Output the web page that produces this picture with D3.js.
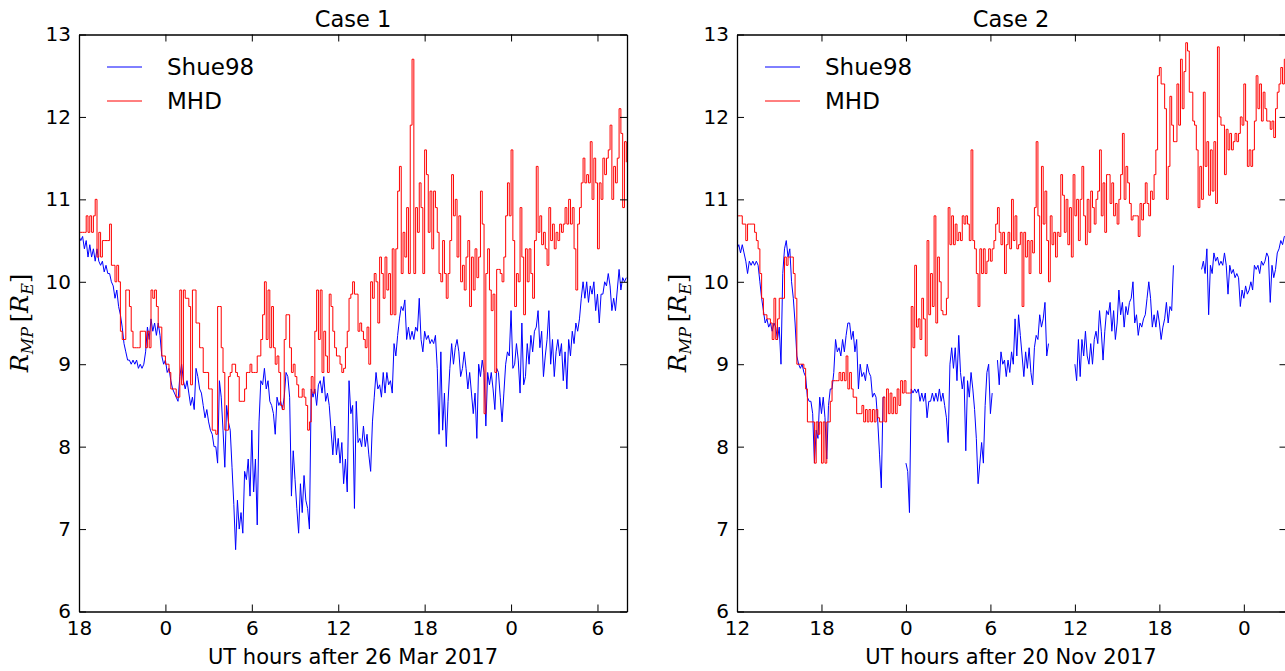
<!DOCTYPE html>
<html>
<head>
<meta charset="utf-8">
<script src="https://cdn.jsdelivr.net/npm/d3@7"></script>
<style>
  body { margin: 0; background: #fff; }
  svg { display: block; background: #fff; }
</style>
</head>
<body>
<svg id="fig" width="1285" height="671"></svg>
<script>
// Magnetopause stand-off distance R_MP (Earth radii), sampled every 7.5 minutes.
const stepHours = 0.125;
const case1Start = 18;   // hours after 26 Mar 2017
const case2Start = 12;   // hours after 20 Nov 2017

const case1Shue98 = [
  10.55,10.5,10.55,10.4,10.5,10.3,10.45,10.3,10.4,10.25,
  10.4,10.25,10.2,10.25,10.12,10.2,10.1,10.1,10.0,9.95,
  9.8,9.9,9.7,9.6,9.45,9.25,9.15,9.05,9.05,9.0,
  9.05,9.0,9.05,8.95,9.0,8.95,9.0,9.15,9.45,9.3,
  9.55,9.4,9.5,9.35,9.5,9.35,9.1,9.0,9.05,8.9,
  8.95,8.8,8.7,8.65,8.6,8.55,8.85,9.0,8.8,8.7,
  8.8,8.65,8.5,8.6,8.45,8.95,8.85,8.7,8.65,8.5,
  8.35,8.45,8.3,8.2,8.15,8.0,8.0,7.8,8.8,8.6,
  8.2,7.75,8.5,8.3,8.2,7.75,7.3,6.75,7.35,7.0,
  7.2,6.95,7.7,7.6,7.85,7.4,8.2,7.45,7.85,7.05,
  8.3,8.8,8.75,8.95,8.7,8.8,8.55,8.5,8.4,8.15,
  8.6,8.5,8.55,8.45,8.6,8.9,8.85,8.6,7.4,7.95,
  7.6,7.25,6.95,7.55,7.2,7.65,7.35,7.25,7.0,8.7,
  8.6,8.7,8.5,8.75,8.8,8.65,8.85,8.55,8.65,8.5,
  8.2,7.9,8.25,7.9,8.1,7.8,8.05,7.55,7.85,7.45,
  8.8,8.4,8.5,7.25,8.55,8.05,8.1,8.0,8.25,8.0,
  8.15,7.9,7.7,8.3,8.6,8.9,8.7,8.75,8.6,8.9,
  8.65,8.9,8.75,8.8,8.65,9.25,9.1,9.35,9.55,9.7,
  9.65,9.78,9.3,9.45,9.3,9.4,9.3,9.45,9.4,9.8,
  9.3,9.15,9.4,9.3,9.35,9.25,9.3,9.25,9.35,8.95,
  8.15,9.15,8.2,8.65,8.0,8.55,8.95,9.25,9.0,9.2,
  9.3,9.15,8.85,8.95,9.15,8.95,8.7,8.9,8.65,8.4,
  8.65,8.1,9.0,8.85,9.05,8.9,8.25,8.9,8.75,8.9,
  8.7,8.45,8.95,8.9,8.6,8.3,8.65,9.0,9.15,9.1,
  9.65,8.95,9.0,9.25,9.05,8.65,9.5,8.75,8.85,9.25,
  9.0,9.35,9.15,9.4,9.45,9.65,9.2,9.4,8.85,9.1,
  9.3,9.65,9.0,9.3,8.85,9.15,9.3,9.1,9.25,8.8,
  9.15,8.7,9.3,9.1,9.4,9.25,9.5,9.4,9.55,9.8,
  10.0,9.8,10.0,9.75,9.95,9.85,10.0,9.65,9.85,9.5,
  9.85,9.85,10.0,9.95,10.1,9.95,9.65,9.8,9.65,9.9,
  10.15,9.9,10.05,10.0,10.05
];
const case1MHD = [
  10.6,10.6,10.6,10.6,10.8,10.6,10.8,10.6,10.8,11.0,
  10.3,10.6,10.3,10.5,10.5,10.5,10.5,10.7,10.2,10.2,
  10.0,10.2,10.0,9.4,9.3,9.3,9.9,9.9,9.7,9.4,
  9.2,9.2,9.2,9.2,9.4,9.4,9.4,9.2,9.4,9.2,
  9.9,9.8,9.9,9.7,9.45,9.45,9.1,9.1,9.0,9.0,
  8.9,8.7,8.7,8.7,8.6,8.6,9.9,8.75,9.9,9.8,
  9.8,9.7,8.75,9.9,9.9,9.5,9.5,9.2,9.2,8.9,
  8.9,8.9,8.7,8.7,8.2,8.2,8.15,9.7,9.7,9.2,
  8.9,8.2,8.2,8.85,8.9,9.0,9.0,8.9,8.85,8.55,
  8.55,8.55,8.7,8.9,8.9,9.0,8.9,8.9,8.9,9.1,
  9.1,9.3,9.6,10.0,9.3,9.9,9.2,9.7,9.2,9.0,
  9.1,8.9,8.5,8.45,9.3,9.6,9.6,9.2,8.9,9.0,
  8.85,8.75,8.6,8.6,8.7,8.6,8.5,8.2,8.3,8.85,
  8.65,9.4,9.9,9.3,9.9,8.9,9.4,9.1,8.9,9.85,
  9.7,9.4,9.2,9.1,9.1,9.0,8.9,8.95,9.2,9.4,
  9.8,9.85,10.0,9.85,9.85,9.4,9.5,9.4,9.3,9.2,
  9.45,9.0,10.0,9.8,10.1,10.0,9.5,10.3,10.1,9.8,
  10.3,9.9,10.1,9.6,10.4,9.6,10.4,11.1,11.4,10.1,
  10.6,10.3,10.9,10.1,11.9,12.7,10.1,10.9,10.6,11.2,
  10.9,10.1,11.6,11.3,10.6,11.1,10.4,11.1,10.9,10.6,
  10.1,10.0,10.5,10.1,9.8,10.1,10.5,11.3,10.8,11.0,
  10.3,10.8,10.0,10.2,9.9,10.3,10.5,9.7,10.3,9.9,
  10.4,10.05,10.3,11.1,10.7,8.4,10.1,10.4,9.9,9.65,
  9.85,8.9,10.15,10.15,10.1,10.0,10.3,10.8,11.2,10.8,
  11.6,10.5,9.7,10.1,10.0,10.9,10.3,9.6,10.4,10.0,
  10.4,10.1,9.8,10.5,11.4,10.6,10.8,10.45,10.6,10.4,
  10.2,10.9,10.5,10.7,10.4,10.6,10.5,10.7,10.6,10.7,
  10.9,10.7,11.0,10.7,10.9,10.4,9.9,10.7,10.9,11.2,
  11.5,11.2,11.3,11.2,11.7,11.0,11.5,11.2,10.4,11.2,
  11.0,11.5,11.3,11.5,11.6,11.9,11.0,11.4,11.2,11.5,
  12.1,11.8,10.9,11.7,11.45
];

const case2Shue98 = [
  10.4,10.45,10.35,10.45,10.35,10.25,10.1,10.25,10.2,10.25,
  10.2,10.25,10.2,10.0,9.8,9.65,9.5,9.55,9.45,9.5,
  9.4,9.5,9.45,9.3,9.45,9.0,10.1,10.4,10.5,10.3,
  10.4,10.0,9.8,9.5,9.1,9.0,8.95,9.0,8.9,8.85,
  8.6,8.55,8.55,8.4,7.8,8.2,8.1,8.6,8.4,8.6,
  8.35,7.85,8.5,8.7,8.7,8.9,9.3,9.15,9.2,9.1,
  9.3,9.15,9.35,9.5,9.5,9.3,9.4,9.15,9.3,8.7,
  9.0,8.85,8.9,8.8,9.0,8.9,8.85,8.6,8.65,8.6,
  8.3,7.9,7.5,8.6,8.6,null,null,null,null,null,
  null,null,null,null,null,null,7.8,7.7,7.2,8.7,
  8.65,8.7,8.65,8.7,8.55,8.65,8.55,8.65,8.35,8.55,
  8.55,8.65,8.55,8.65,8.55,8.7,8.55,8.65,8.5,8.35,
  8.05,9.0,9.2,8.95,9.2,8.8,9.35,8.9,8.7,8.85,
  7.95,8.8,8.6,8.9,8.7,8.45,8.1,7.55,7.8,8.05,
  7.8,8.5,8.9,9.0,8.4,8.65,null,null,9.05,8.75,
  9.15,9.0,9.05,8.85,9.05,8.9,9.15,9.0,9.55,9.1,
  9.6,9.35,9.1,8.85,9.15,8.95,9.2,8.9,8.75,9.2,
  9.35,9.3,9.6,9.45,9.55,9.75,9.1,9.25,null,null,
  null,null,null,null,null,null,null,null,null,null,
  null,null,9.0,8.8,9.3,8.85,9.3,9.1,9.4,9.1,
  9.0,9.25,9.0,9.3,9.4,9.25,9.65,9.4,9.05,9.4,
  9.65,9.6,9.75,9.4,9.65,9.3,9.5,9.9,9.6,9.75,
  9.45,9.7,9.6,9.75,9.8,10.0,9.5,9.6,9.35,9.5,
  9.45,9.55,9.6,9.8,10.0,9.8,9.45,9.6,9.45,9.65,
  9.5,9.3,9.45,9.55,9.75,9.5,9.7,9.65,10.2,null,
  null,null,null,null,null,null,null,null,null,null,
  null,null,null,null,10.15,10.25,10.1,10.4,9.6,10.2,
  10.1,10.35,10.25,10.3,10.2,10.25,10.2,10.35,10.2,9.85,
  10.2,10.1,10.15,10.05,10.1,10.05,9.7,9.9,9.8,9.95,
  9.85,9.9,10.0,9.9,10.2,10.15,10.2,10.1,10.25,10.2,
  10.25,10.35,10.3,9.75,10.2,10.05,10.15,10.35,10.4,10.5,
  10.45,10.55,10.55
];
const case2MHD = [
  10.8,10.8,10.8,10.7,10.7,10.5,10.7,10.7,10.7,10.7,
  10.6,10.5,10.4,10.1,9.8,9.6,9.6,9.55,9.55,9.5,
  9.3,9.8,9.3,9.55,9.8,9.8,9.8,10.3,10.2,10.3,
  10.3,10.3,10.1,9.8,9.0,9.0,9.0,9.0,8.95,8.7,
  8.3,8.3,8.3,8.3,7.8,8.3,8.15,8.3,7.8,8.3,
  7.8,8.3,8.3,8.55,8.8,8.8,8.8,8.8,8.9,8.8,
  8.9,8.8,9.1,8.7,8.9,8.7,8.6,8.6,8.4,8.4,
  8.4,8.5,8.3,8.45,8.3,8.45,8.3,8.45,8.3,8.45,
  8.35,8.3,8.3,8.6,8.3,8.7,8.4,8.65,8.4,8.6,
  8.4,8.7,8.5,8.8,8.65,8.8,8.65,8.65,8.65,9.7,
  9.2,10.2,9.45,9.55,9.3,9.8,9.55,9.1,10.5,9.6,
  10.1,9.7,10.8,9.5,10.3,10.0,9.65,9.6,9.6,9.8,
  10.9,10.45,10.8,10.45,10.7,10.5,10.6,10.5,10.8,10.7,
  10.8,10.7,10.5,11.6,10.5,10.4,10.1,9.7,10.4,10.1,
  10.4,10.1,10.25,10.4,10.25,10.4,10.5,10.7,10.9,10.6,
  10.45,10.6,10.1,10.45,10.6,10.4,11.0,10.5,10.8,10.4,
  10.45,10.6,9.7,10.6,10.3,10.5,10.1,10.5,10.35,10.9,
  11.7,10.8,10.1,11.4,10.7,11.1,10.5,10.0,10.8,10.45,
  10.6,10.3,10.6,10.55,11.3,11.05,10.6,11.0,10.45,10.9,
  10.3,11.3,10.8,11.0,10.5,11.0,11.4,10.8,10.45,11.0,
  10.6,11.1,10.9,10.7,11.0,11.1,11.6,10.8,11.2,10.6,
  11.3,11.3,10.95,11.2,10.8,10.95,10.7,11.0,11.3,11.8,
  11.0,11.4,11.2,10.95,10.75,10.8,10.8,10.8,10.55,10.95,
  10.75,10.95,11.2,10.95,10.8,11.1,11.0,11.3,11.6,12.5,
  12.6,12.4,12.4,12.1,11.0,11.4,12.25,11.9,11.7,11.7,
  12.4,11.9,12.7,12.1,12.55,12.9,12.8,12.3,12.3,11.95,
  11.9,11.6,10.9,11.4,11.0,12.3,11.4,11.7,11.05,11.6,
  11.1,11.7,10.95,12.85,12.0,11.9,11.9,11.3,11.85,11.6,
  11.8,11.6,11.7,11.8,11.7,11.8,12.0,11.9,12.4,11.95,
  11.4,11.6,11.4,11.6,11.95,12.5,12.1,12.4,11.95,12.3,
  12.1,11.95,11.95,11.85,11.95,11.75,12.1,12.3,12.4,12.6,
  12.4,12.7,12.5
];

const case1HourTicks = [18, 24, 30, 36, 42, 48, 54];
const case2HourTicks = [12, 18, 24, 30, 36, 42, 48];
const radiusTicks = [6, 7, 8, 9, 10, 11, 12, 13];
const seriesNames = ["Shue98", "MHD"];
const seriesColors = ["#0000ff", "#ff0000"];

const svg = d3.select("#fig");
const defs = svg.append("defs");
const sans = '"DejaVu Sans", "Bitstream Vera Sans", sans-serif';

const y = d3.scaleLinear().domain([6, 13]).range([611.5, 34.5]);

const panels = [
  { title: "Case 1", xlabel: "UT hours after 26 Mar 2017", start: case1Start, end: 56.05,
    left: 79, right: 627, shue: case1Shue98, mhd: case1MHD, ticks: case1HourTicks },
  { title: "Case 2", xlabel: "UT hours after 20 Nov 2017", start: case2Start, end: 51.03,
    left: 737, right: 1286.5, shue: case2Shue98, mhd: case2MHD, ticks: case2HourTicks }
];

panels.forEach((p, k) => {
  const x = d3.scaleLinear().domain([p.start, p.end]).range([p.left, p.right]);
  const hourAt = i => p.start + i * stepHours;
  const centreX = (p.left + Math.min(p.right, p.left + 548)) / 2;
  const g = svg.append("g");

  const clipId = "plot-clip-" + k;
  defs.append("clipPath").attr("id", clipId).append("rect")
    .attr("x", p.left).attr("y", y(13))
    .attr("width", p.right - p.left).attr("height", y(6) - y(13));

  const plot = g.append("g").attr("clip-path", `url(#${clipId})`);

  const shueLine = d3.line()
    .defined(d => d != null)
    .x((d, i) => x(hourAt(i)))
    .y(d => y(d));
  const mhdLine = d3.line()
    .defined(d => d != null)
    .curve(d3.curveStepAfter)
    .x((d, i) => x(hourAt(i)))
    .y(d => y(d));

  plot.append("path").datum(p.shue)
    .attr("d", shueLine).attr("fill", "none")
    .attr("stroke", seriesColors[0]).attr("stroke-width", 1);
  plot.append("path").datum(p.mhd)
    .attr("d", mhdLine).attr("fill", "none")
    .attr("stroke", seriesColors[1]).attr("stroke-width", 1);

  // Axes: ticks point inward on all four sides
  const fmtHour = h => String(h % 24);
  const axB = g.append("g").attr("transform", `translate(0,${y(6)})`)
    .call(d3.axisBottom(x).tickValues(p.ticks).tickFormat(fmtHour)
      .tickSizeInner(-7).tickSizeOuter(0).tickPadding(9));
  const axT = g.append("g").attr("transform", `translate(0,${y(13)})`)
    .call(d3.axisTop(x).tickValues(p.ticks).tickFormat("")
      .tickSizeInner(-7).tickSizeOuter(0));
  const axL = g.append("g").attr("transform", `translate(${p.left},0)`)
    .call(d3.axisLeft(y).tickValues(radiusTicks).tickFormat(d3.format("d"))
      .tickSizeInner(-7).tickSizeOuter(0).tickPadding(8));
  const axR = g.append("g").attr("transform", `translate(${p.right},0)`)
    .call(d3.axisRight(y).tickValues(radiusTicks).tickFormat("")
      .tickSizeInner(-7).tickSizeOuter(0));

  [axB, axT, axL, axR].forEach(a => {
    a.attr("font-family", sans).attr("font-size", 20);
    a.selectAll("text").attr("fill", "#000");
    a.selectAll("line").attr("stroke", "#000").attr("stroke-width", 1);
    a.select(".domain").attr("stroke", "#000").attr("stroke-width", 1.3);
  });

  // Title
  g.append("text")
    .attr("x", centreX).attr("y", 27)
    .attr("text-anchor", "middle")
    .attr("font-family", sans).attr("font-size", 22.5)
    .text(p.title);

  // x label
  g.append("text")
    .attr("x", centreX).attr("y", 664)
    .attr("text-anchor", "middle")
    .attr("font-family", sans).attr("font-size", 21)
    .text(p.xlabel);

  // y label: R_MP [R_E]
  const yl = g.append("text")
    .attr("transform", `translate(${p.left - 51},${(y(6) + y(13)) / 2}) rotate(-90)`)
    .attr("text-anchor", "middle")
    .attr("font-family", '"DejaVu Serif", "Liberation Serif", serif')
    .attr("font-size", 24);
  yl.append("tspan").attr("font-style", "italic").text("R");
  yl.append("tspan").attr("font-style", "italic").attr("font-size", 16).attr("dy", 5).text("MP");
  yl.append("tspan").attr("dy", -5).text("\u2009[");
  yl.append("tspan").attr("font-style", "italic").text("R");
  yl.append("tspan").attr("font-style", "italic").attr("font-size", 16).attr("dy", 5).text("E");
  yl.append("tspan").attr("dy", -5).text("]");

  // Legend
  const legend = g.append("g");
  seriesNames.forEach((name, j) => {
    const cy = 67 + j * 34;
    legend.append("line")
      .attr("x1", p.left + 28).attr("x2", p.left + 63)
      .attr("y1", cy).attr("y2", cy)
      .attr("stroke", seriesColors[j]).attr("stroke-width", 1);
    legend.append("text")
      .attr("x", p.left + 88).attr("y", cy + 8.3)
      .attr("font-family", sans).attr("font-size", 23)
      .text(name);
  });
});
</script>
</body>
</html>
